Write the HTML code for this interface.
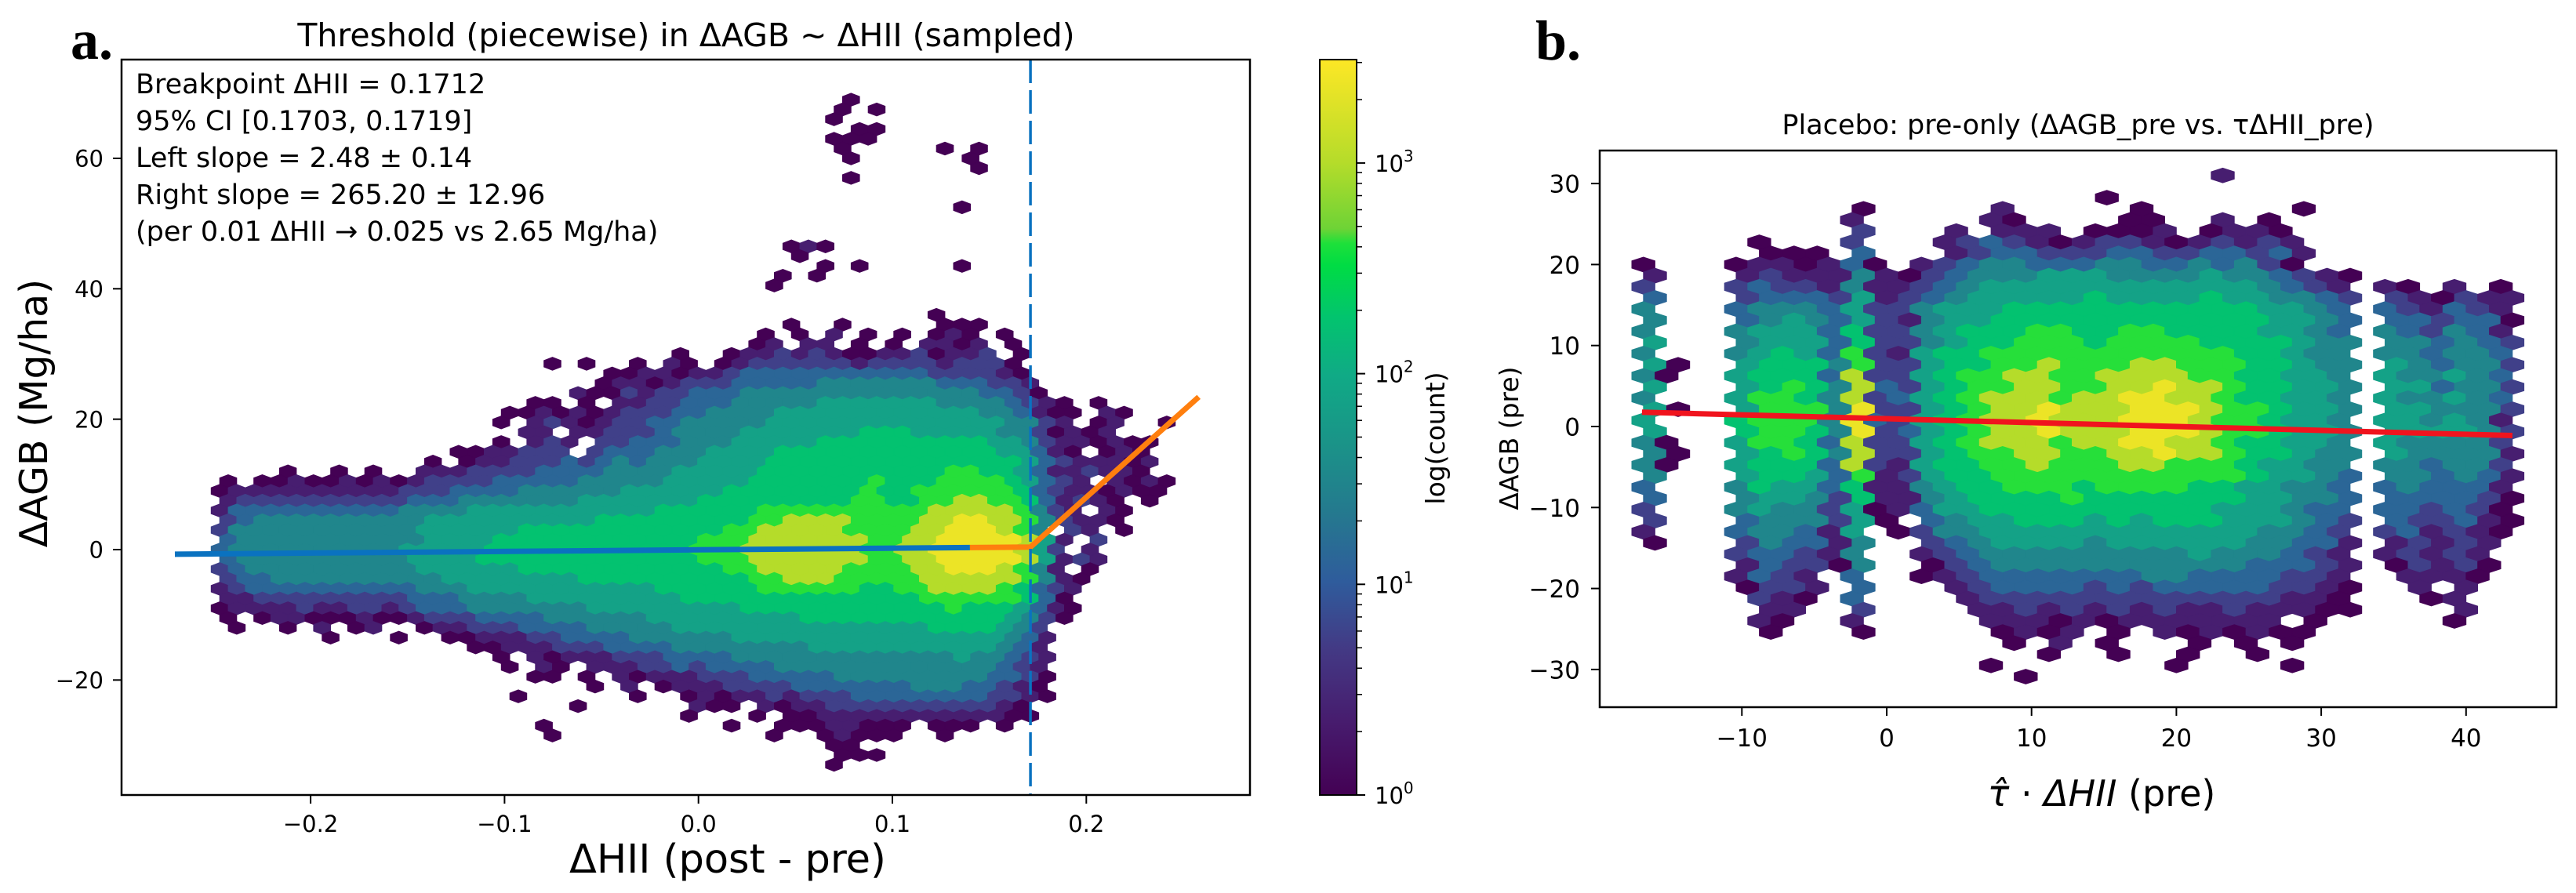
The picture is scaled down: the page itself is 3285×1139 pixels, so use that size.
<!DOCTYPE html>
<html><head><meta charset="utf-8"><title>Threshold hexbin charts</title>
<style>html,body{margin:0;padding:0;background:#fff;}svg{display:block;}text{font-family:"DejaVu Sans","Liberation Sans",sans-serif;fill:#000;}</style>
</head><body>
<svg id="fig" width="3285" height="1139" viewBox="0 0 3285 1139" xmlns="http://www.w3.org/2000/svg">
<defs>
<clipPath id="clipA"><rect x="155" y="76" width="1439" height="938"/></clipPath>
<clipPath id="clipB"><rect x="2040" y="192" width="1220" height="710"/></clipPath>
<linearGradient id="cbarGrad" x1="0" y1="1" x2="0" y2="0"></linearGradient>
</defs>
<rect x="0" y="0" width="3285" height="1139" fill="#fff"/>
<text x="90" y="75" style="font-family:'Liberation Serif',serif;font-weight:bold;font-size:72px">a.</text>
<text x="1958" y="76" style="font-family:'Liberation Serif',serif;font-weight:bold;font-size:72px">b.</text>
<text x="875" y="59" text-anchor="middle" font-size="41">Threshold (piecewise) in ΔAGB ~ ΔHII (sampled)</text>
<text x="2650" y="171" text-anchor="middle" font-size="35">Placebo: pre-only (ΔAGB_pre vs. τΔHII_pre)</text>
<g id="hexA" clip-path="url(#clipA)"></g>
<g id="linesA" clip-path="url(#clipA)"></g>
<g id="annot" font-size="35">
<text x="173" y="119">Breakpoint ΔHII = 0.1712</text>
<text x="173" y="166">95% CI [0.1703, 0.1719]</text>
<text x="173" y="213">Left slope = 2.48 ± 0.14</text>
<text x="173" y="260">Right slope = 265.20 ± 12.96</text>
<text x="173" y="307">(per 0.01 ΔHII → 0.025 vs 2.65 Mg/ha)</text>
</g>
<rect x="155" y="76" width="1439" height="938" fill="none" stroke="#000" stroke-width="2.5"/>
<g id="ticksA"></g>
<text x="928" y="1113" text-anchor="middle" font-size="51">ΔHII (post - pre)</text>
<text transform="translate(60,527) rotate(-90)" text-anchor="middle" font-size="49">ΔAGB (Mg/ha)</text>
<rect id="cbar" x="1683" y="76" width="47" height="938" fill="url(#cbarGrad)" stroke="#000" stroke-width="2"/>
<g id="cbarTicks"></g>
<text transform="translate(1842,559) rotate(-90)" text-anchor="middle" font-size="33">log(count)</text>
<g id="hexB" clip-path="url(#clipB)"></g>
<g id="linesB" clip-path="url(#clipB)"></g>
<rect x="2040" y="192" width="1220" height="710" fill="none" stroke="#000" stroke-width="2.5"/>
<g id="ticksB"></g>
<text x="2680" y="1028" text-anchor="middle" font-size="46"><tspan font-style="italic">τ̂</tspan> · <tspan font-style="italic">ΔHII</tspan> (pre)</text>
<text transform="translate(1936,559) rotate(-90)" text-anchor="middle" font-size="33">ΔAGB (pre)</text>
</svg>
<script>
// ---------- data: panel a (rows top->bottom, y = 69 - 1.5k; groups of 5 columns) ----------
const hexRowsA = [
"|||||||...0.","|||||||..0.0","|||||||..0..","|||||||...00","|||||||..000",
"|||||||..0..|...0.|0","|||||||...0.||0","|||||||||0","|||||||...0.","","",
"||||||||....0","","","","||||||....0|10","|||||||0","|||||||.0.0.|....0","||||||....0|.0","||||||...0.","","",
"||||||||...0.",
"||||||....0|..0..|...00|0",
"||||||...0.|0.1.0|.0.01|0.0..",
"||||||..01.|11.0.|0.110|1.0..",
"|||||...0.|.0112|12100|11201|12.0.",
"||||0.0..|0.10.|01222|22212|22212|220..",
"||||....0|01101|12333|33333|33322|2210.",
"||||...01|10122|23333|34444|44433|3221.",
"||||..100|21223|33444|44444|44444|43320",
"|||....0|0.0.1|12233|34444|45555|55544|44321|0.0..",
"|||...00|10101|22233|44445|55555|55555|54431|00.10",
"|||..0.1|21012|23344|44455|55555|55555|55442|1.01.|.0",
"|||....1|1.112|22344|44555|55556|66555|55442|0101.",
"|||..0.1|21.22|33344|45555|56666|66666|65542|11010|0",
"|||00112|22.23|33444|55556|66666|66666|66553|10.01|0",
"||...0.|01122|23234|34445|55566|66666|66666|66653|21110|1",
"|0..0.|0..11|12222|33334|44455|55566|66666|66667|76653|11211|0",
".0.00|10010|10122|22333|33444|44555|55666|66667|66677|77653|21.10|10",
".0111|11111|11222|33334|44444|55555|56666|66667|66777|77763|21101|00",
".1222|22222|22333|44444|44555|55556|66666|66677|66778|87763|1210.|0",
".1333|33333|33444|45555|55555|55666|66677|77777|77788|88874|21.10",
".2344|44444|44455|55555|55566|66666|66778|88877|77889|98874|2110.",
".2444|44444|44455|55556|66666|66666|67788|88877|77889|99874|.21.0",
".3444|44444|44455|55666|66666|66667|77888|88887|78899|99985|1.2..",
".3444|44444|44555|55666|66666|66667|77888|88887|78899|99985|2.1..",
".3444|44444|44555|56666|66666|66667|77888|88887|78899|99985|121..",
".2344|44444|44455|55556|66666|66666|67788|88877|77889|99874|1.0..",
".2334|44444|44445|55555|55666|66666|66778|88777|77888|88874|10...",
".1233|33333|33344|45555|55555|55666|66677|77776|67788|88763|21...",
".1122|22222|22333|44445|55555|55566|66666|66666|66777|77763|0....",
".0111|12112|21233|34444|44455|55555|55666|66666|66667|66653|10...",
".0.01|10001|00122|23333|44444|45555|55555|66666|66666|66542|0....",
"..0..|0.1.0|1..01|12223|33344|44455|55555|55555|55566|66542",
"|..0..|.0..0|01112|23333|44444|45555|55555|55555|55431",
"|||.0011|12223|33344|44444|45555|55555|55431",
"|||..0.1|01112|22333|34444|44444|44445|44321",
"|||...0.|10.11|12232|33334|44444|44444|44321",
"|||....0|0.0.1|01112|22333|33444|44444|43320",
"||||...0.|1.011|12222|33333|33444|33210",
"|||...0.||0..01|01121|22233|33333|32210",
"||||..0..|....1|00.10|11222|22222|2210.",
"|||||...0.|..0.0|01111|11111|1100.",
"||||0....||.0..0|00110|00.00|0.0..",
"||||0....||...0.|.0100|0..0.",
"|||||||..00.",
"|||||||..000",
"|||||||..0.."
];
// ---------- data: panel b (rows top->bottom, y = 31 - 1.375k) ----------
const hexRowsB = [
"||||.............1","","||||........0","||0||...1.....0......0","||1||...10....00..1.0",
"||2||.1.111.0001.0110","|.0...|2||.1232101221012121","|.000.|3||.1233222332233231",
"0|01101|3|0.|12344333443343420","1|12111|4|10|2344455544445443210",
"2|23221|4|11|2345555555555554321||10.1.0","3|23332|5|12|3455555655556554432||210211",
"4|34443|5|22|4555666666666665543||321321","4|34543|5|21|4556666666666665543||332330",
"4|45553|6|22|4566677667766665543||432431","5|45553|6|22|4566777677776666544||443432",
"4|45653|7|21|5667777777777766544||443443","50|56664|7|22|5667787778877766544||543442",
"40|56663|8|22|5677887788887766554||544543","5|56764|8|32|5677887788988766554||553442",
"4|57764|8|23|5678887889988766554||544543","50|57774|9|22|5678898889998776554||554442",
"5|67774|9|32|5678898889998776554||554541","5|67764|9|23|5678898889998776554||555542",
"40|57763|8|22|5678887889988766554||544442","40|56764|8|22|5677887788988766544||544441",
"40|56663|8|21|5667787778877765544||443442","4|56653|7|12|5667777777777765543||443431",
"3|46553|6|11|4566777677776655443||343331","3|45542|6|11|4566667666666655443||333320",
"2|45442|5|01|3556666666666555433||332320","2|34442|5|0.|3455666565666555432||322310",
"1|34431|5|.0|2445555555555554432||231210","0|24331|4||2345555455555544331||12121.",
"|23321|4||1234444444445444321||12121.","|13220|4||0234444444444433321||02120.",
"|1321.|3||0123333333443333221||.1110.","|0221.|3||.123333232333332210||.1.1..",
"|.210.|3||..12222222222222110||..01..","|.11..|2||..11212121211211100||...1..",
"|.10..|1||...1110101111111.0.||...0..","|.0...|0||...0101.0.1010100..",
"||||....0.1.0...0.0.0..","||||.....0..0..0..0....","||||...0.......0....0..","||||....0"
];
const groupSizesA = [5,5,5,5,5,5,5,5,5,5,5,5];
const groupSizesB = [4,5,1,2,19,1,6,1];
const logPerLevel = [0.375];
// grid definitions (data units)
const gridA = {x0:-0.2557, dx:0.0088, y0:69, dy:-1.5};
const gridB = {x0:-16.8, dx:1.6, y0:31, dy:-1.375};
// ticks
const xTicksA = [-0.2,-0.1,0.0,0.1,0.2];
const xTickLabelsA = ["−0.2","−0.1","0.0","0.1","0.2"];
const yTicksA = [-20,0,20,40,60];
const yTickLabelsA = ["−20","0","20","40","60"];
const xTicksB = [-10,0,10,20,30,40];
const xTickLabelsB = ["−10","0","10","20","30","40"];
const yTicksB = [-30,-20,-10,0,10,20,30];
const yTickLabelsB = ["−30","−20","−10","0","10","20","30"];
const cbarDecades = [0,1,2,3];
// fit lines
const breakX = [0.1712];
const yAtBreak = [0.39];
const leftSlope = [2.48];
const rightSlope = [265.2];
const blueXRange = [-0.27, 0.14];
const orangeXRange = [0.14, 0.258];
const placeboXRange = [-16.9, 43.2];
const placeboFit = [0.96, -0.048]; // intercept, slope

// ---------- axes ----------
const xA = v => 890.7 + 2473*v;
const yA = v => 701 - 8.317*v;
const xB = v => 2406 + 18.47*v;
const yB = v => 544 - 10.33*v;
const cbMaxLog = 3.49;
const yC = lg => 1014 - lg*268.7;

const cmapStops = [[0,'#440154'],[0.1,'#471c6e'],[0.2,'#433a85'],[0.29,'#2f5c9c'],[0.38,'#25788f'],[0.48,'#1a9488'],[0.57,'#10aa86'],[0.65,'#02c46e'],[0.72,'#00dc44'],[0.75,'#1de03a'],[0.77,'#6ed336'],[0.86,'#b5dc2a'],[1,'#fde725']];
function hex2rgb(h){return [parseInt(h.slice(1,3),16),parseInt(h.slice(3,5),16),parseInt(h.slice(5,7),16)];}
function cmap(t){
  t=Math.max(0,Math.min(1,t));
  for(let i=1;i<cmapStops.length;i++){
    if(t<=cmapStops[i][0]){
      const a=cmapStops[i-1],b=cmapStops[i];const f=(t-a[0])/(b[0]-a[0]);
      const ca=hex2rgb(a[1]),cb=hex2rgb(b[1]);
      return 'rgb('+ca.map((c,k)=>Math.round(c+(cb[k]-c)*f)).join(',')+')';
    }
  }
  return cmapStops[cmapStops.length-1][1];
}
const NS='http://www.w3.org/2000/svg';
function mk(tag,attrs,parent){const e=document.createElementNS(NS,tag);for(const k in attrs)e.setAttribute(k,attrs[k]);parent.appendChild(e);return e;}
function parseRow(str,sizes){const g=str.split('|');let out='';sizes.forEach((s,i)=>{out+=((g[i]||'')+'.'.repeat(s)).slice(0,s);});return out;}

// gradient
const grad=document.getElementById('cbarGrad');
cmapStops.forEach(s=>{const st=mk('stop',{offset:s[0],'stop-color':s[1]},grad);});

function drawHex(rows,sizes,grid,xf,yf,parent,name){
  const hw=grid.dx/2, rv=Math.abs(grid.dy)*2/3;
  rows.forEach((r,k)=>{
    const s=parseRow(r,sizes);
    for(let i=0;i<s.length;i++){
      const c=s[i]; if(c<'0'||c>'9') continue;
      const L=+c;
      const cx=grid.x0+(i+(k%2?0.5:0))*grid.dx, cy=grid.y0+k*grid.dy;
      const pts=[[cx+hw,cy-rv/2],[cx+hw,cy+rv/2],[cx,cy+rv],[cx-hw,cy+rv/2],[cx-hw,cy-rv/2],[cx,cy-rv]]
        .map(p=>xf(p[0]).toFixed(1)+','+yf(p[1]).toFixed(1)).join(' ');
      const col=cmap(L*logPerLevel[0]/cbMaxLog);
      const p=mk('polygon',{points:pts,fill:col,stroke:col,'stroke-width':0.8},parent);
      
      
    }
  });
}
drawHex(hexRowsA,groupSizesA,gridA,xA,yA,document.getElementById('hexA'),'hex-cell-a');
drawHex(hexRowsB,groupSizesB,gridB,xB,yB,document.getElementById('hexB'),'hex-cell-b');

// fit lines panel a
const la=document.getElementById('linesA');
const fL=x=>yAtBreak[0]+leftSlope[0]*(x-breakX[0]);
const fR=x=>x<breakX[0]?fL(x):yAtBreak[0]+rightSlope[0]*(x-breakX[0]);
const blue=mk('line',{x1:xA(blueXRange[0]),y1:yA(fL(blueXRange[0])),x2:xA(blueXRange[1]),y2:yA(fL(blueXRange[1])),stroke:'#0a72c0','stroke-width':7},la);


const oPts=[orangeXRange[0],breakX[0],orangeXRange[1]].map(x=>xA(x).toFixed(1)+','+yA(fR(x)).toFixed(1)).join(' ');
const orange=mk('polyline',{points:oPts,fill:'none',stroke:'#ff7f0e','stroke-width':7,'stroke-linejoin':'miter'},la);


const dash=mk('line',{x1:xA(breakX[0]),y1:76,x2:xA(breakX[0]),y2:1014,stroke:'#0a72c0','stroke-width':3.5,'stroke-dasharray':'30 9'},la);



// red fit panel b
const lb=document.getElementById('linesB');
const red=mk('line',{x1:xB(placeboXRange[0]),y1:yB(placeboFit[0]+placeboFit[1]*placeboXRange[0]),x2:xB(placeboXRange[1]),y2:yB(placeboFit[0]+placeboFit[1]*placeboXRange[1]),stroke:'#f0141e','stroke-width':7},lb);



// ticks
function ticks(parent,xt,xl,yt,yl,xf,yf,left,bottom,fs,tag){
  xt.forEach((v,i)=>{
    const x=xf(v);
    const t=mk('line',{x1:x,y1:bottom,x2:x,y2:bottom+11,stroke:'#000','stroke-width':2},parent);
    
    
    const tx=mk('text',{x:x,y:bottom+(tag==='a'?47:50),'text-anchor':'middle','font-size':fs},parent);
    tx.textContent=xl[i];
    
    
  });
  yt.forEach((v,i)=>{
    const y=yf(v);
    const t=mk('line',{x1:left-11,y1:y,x2:left,y2:y,stroke:'#000','stroke-width':2},parent);
    
    
    const tx=mk('text',{x:left-(tag==='a'?23:25),y:y+fs*0.37,'text-anchor':'end','font-size':fs},parent);
    tx.textContent=yl[i];
    
    
  });
}
ticks(document.getElementById('ticksA'),xTicksA,xTickLabelsA,yTicksA,yTickLabelsA,xA,yA,155,1014,29,'a');
ticks(document.getElementById('ticksB'),xTicksB,xTickLabelsB,yTicksB,yTickLabelsB,xB,yB,2040,902,31,'b');

// colorbar ticks
const cg=document.getElementById('cbarTicks');
cbarDecades.forEach(d=>{
  const y=yC(d);
  const t=mk('line',{x1:1730,y1:y,x2:1741,y2:y,stroke:'#000','stroke-width':2},cg);
  
  
  const tx=mk('text',{x:1753,y:y+11,'font-size':29},cg);
  
  
  tx.textContent='10';
  const sup=mk('tspan',{dy:-13,'font-size':20},tx);
  sup.textContent=String(d);
  for(let m=2;m<=9;m++){
    const lg=d+Math.log10(m);
    if(lg>cbMaxLog) break;
    const mt=mk('line',{x1:1730,y1:yC(lg),x2:1737,y2:yC(lg),stroke:'#000','stroke-width':1.5},cg);
    
    
  }
});
</script>
</body></html>
